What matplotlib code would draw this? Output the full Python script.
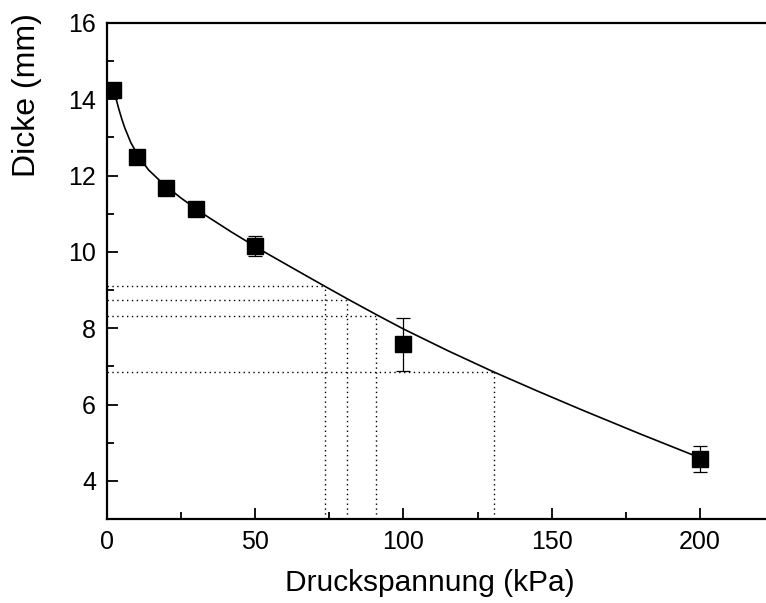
import matplotlib.pyplot as plt

plt.rcParams['font.family'] = ['Liberation Sans', 'DejaVu Sans']

# Messwerte
druck = [2, 10, 20, 30, 50, 100, 200]
dicke = [14.24, 12.5, 11.68, 11.12, 10.15, 7.58, 4.58]
fehler = [0.08, 0.08, 0.08, 0.08, 0.26, 0.69, 0.34]

# Fit-Kurve
fit_x = [2, 3, 4, 5, 6, 8, 10.5, 14, 19, 25, 32, 42, 52.6, 63, 73, 81.3, 91,
         100, 115, 130, 145, 160, 180, 200]
fit_y = [14.35, 14.03, 13.74, 13.48, 13.25, 12.87, 12.52, 12.15, 11.78, 11.41,
         11.02, 10.52, 10.02, 9.56, 9.12, 8.76, 8.35, 7.98, 7.41, 6.87, 6.36,
         5.865, 5.225, 4.605]

# Hilfslinien (punktiert)
hilfs_x = [73.4, 81.1, 90.9, 130.6]
hilfs_y = [9.1, 8.74, 8.33, 6.85]

fig = plt.figure(figsize=(7.66, 6.03), dpi=100)
ax = fig.add_axes([0.1397, 0.1393, 0.8603, 0.8226])

for hx, hy in zip(hilfs_x, hilfs_y):
    ax.plot([0, hx], [hy, hy], color='black', linestyle=(0, (1, 2.5)), linewidth=1)
    ax.plot([hx, hx], [3, hy], color='black', linestyle=(0, (1, 2.5)), linewidth=1)

ax.plot(fit_x, fit_y, color='black', linewidth=1.2)
ax.errorbar(druck, dicke, yerr=fehler, fmt='s', color='black', markersize=11,
            elinewidth=0.9, capsize=5, capthick=0.9)

ax.set_xlim(0, 222.3)
ax.set_ylim(3, 16)
ax.set_xticks([0, 50, 100, 150, 200])
ax.set_xticks([25, 75, 125, 175], minor=True)
ax.set_yticks([4, 6, 8, 10, 12, 14, 16])
ax.set_yticks([5, 7, 9, 11, 13, 15], minor=True)
ax.tick_params(which='major', direction='in', length=8, width=1.3, labelsize=18, pad=8)
ax.tick_params(which='minor', direction='in', length=5, width=1.3)
ax.spines['right'].set_visible(False)
for s in ['left', 'bottom', 'top']:
    ax.spines[s].set_linewidth(1.6)

ax.set_xlabel('Druckspannung (kPa)', fontsize=21.5)
ax.set_ylabel('Dicke (mm)', fontsize=23)
ax.xaxis.set_label_coords(0.49, -0.1)
ax.yaxis.set_label_coords(-0.099, 0.855)

fig.savefig('out.png', dpi=100)
